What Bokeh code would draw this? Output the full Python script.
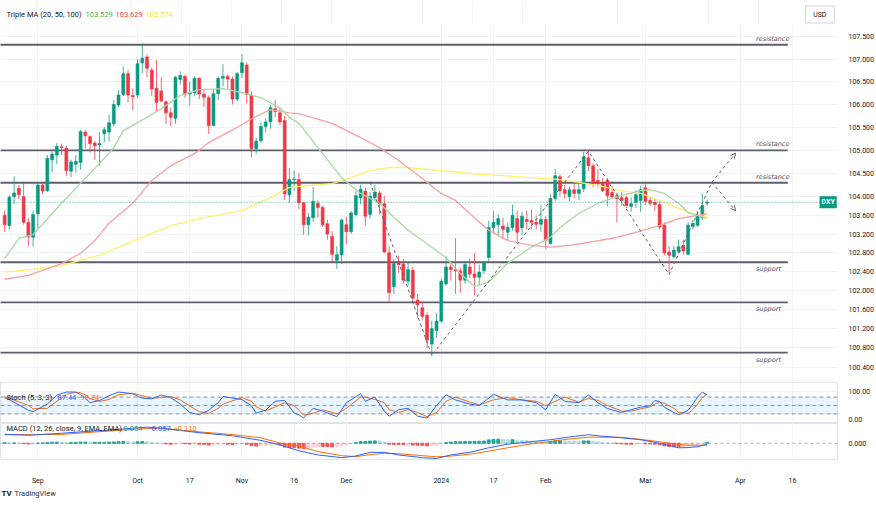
import numpy as np
from bokeh.plotting import figure
from bokeh.layouts import column
from bokeh.models import (Range1d, FixedTicker, PrintfTickFormatter, Label, Span,
                          BoxAnnotation, Arrow, OpenHead, ColumnDataSource)
from bokeh.embed import file_html
from bokeh.resources import INLINE
from bokeh.core.properties import value

# ---------------- data (daily DXY candles, bar index 0 = 23 Aug 2023) ----------------
opens = [103.60,103.38,104.00,104.18,104.00,103.45,103.13,103.63,104.25,104.13,104.80,104.90,105.08,105.05,104.55,104.70,104.74,105.40,105.30,105.16,
         105.12,105.36,105.40,105.58,105.99,106.22,106.68,106.20,106.21,106.92,107.05,106.76,106.36,106.30,106.06,105.82,105.70,106.55,106.62,106.23,
         106.26,106.58,106.23,106.15,105.54,106.24,106.58,106.62,106.56,106.12,106.70,106.87,106.21,105.04,105.21,105.52,105.62,105.91,105.82,105.65,
         104.04,104.37,104.37,103.87,103.40,103.55,103.86,103.77,103.42,103.15,102.64,102.76,103.40,103.25,103.62,103.98,104.12,103.62,103.98,104.08,
         103.85,102.80,102.08,102.62,102.56,102.20,102.43,101.80,101.64,101.48,100.88,101.16,101.36,102.14,102.50,102.44,102.42,102.22,102.50,102.35,
         102.28,102.42,102.70,103.34,103.40,103.37,103.24,103.34,103.53,103.34,103.51,103.49,103.45,103.41,103.51,103.00,103.96,104.43,104.15,104.00,
         104.15,104.07,104.17,104.84,104.67,104.35,104.30,104.35,104.09,104.02,103.98,103.98,103.79,103.88,103.92,104.19,103.92,103.88,103.83,103.39,
         102.82,102.72,102.83,102.96,102.77,103.36,103.39,103.55,103.86]
highs = [103.70,104.03,104.44,104.25,104.30,103.55,103.70,104.30,104.30,104.90,104.98,105.16,105.15,105.10,104.80,104.90,105.45,105.44,105.33,105.20,
         105.40,105.51,105.78,106.10,106.32,106.84,106.76,106.35,107.00,107.35,107.10,106.82,106.98,106.60,106.09,105.94,106.63,106.73,106.66,106.50,
         106.62,106.60,106.34,106.20,106.33,106.62,106.89,106.66,106.62,106.72,107.11,106.93,106.29,105.27,105.61,105.70,106.00,106.10,105.93,105.75,
         104.62,104.56,104.50,103.89,103.65,104.21,103.92,103.80,103.50,103.26,102.94,103.53,103.57,103.70,104.12,104.26,104.19,104.11,104.26,104.12,
         104.02,102.94,102.67,102.74,102.67,102.58,102.50,101.93,101.78,101.54,101.37,101.53,102.25,102.73,102.60,103.11,102.49,102.63,102.68,102.80,
         102.55,102.62,103.48,103.69,103.62,103.55,103.44,103.83,103.70,103.68,103.70,103.72,103.60,103.82,103.58,104.05,104.60,104.48,104.25,104.22,
         104.28,104.28,104.97,105.00,104.72,104.60,104.40,104.40,104.22,104.08,104.10,104.02,103.98,104.14,104.24,104.31,104.00,103.98,103.90,103.45,
         102.95,102.95,103.08,103.08,103.45,103.50,103.70,104.07,103.93]
lows = [103.25,103.30,103.84,103.95,103.40,102.94,102.93,103.32,104.05,104.10,104.53,104.70,104.90,104.45,104.42,104.52,104.58,105.04,104.95,104.80,
        104.67,105.18,105.19,105.52,105.95,106.19,106.05,105.88,106.14,106.69,106.60,106.19,105.85,106.05,105.57,105.53,105.58,106.44,106.15,105.98,
        106.18,106.12,105.95,105.36,105.53,106.10,106.40,106.32,106.00,106.07,106.58,106.03,104.85,104.93,105.17,105.39,105.47,105.73,105.56,103.93,
        103.87,104.13,103.73,103.18,103.17,103.46,103.55,103.35,103.08,102.58,102.46,102.56,102.99,103.20,103.58,103.84,103.38,103.53,103.92,103.62,
        102.79,101.77,101.93,102.37,102.14,102.11,101.75,101.43,101.37,100.80,100.62,101.01,101.32,102.10,102.21,101.93,101.95,102.15,102.27,101.90,
        102.12,102.35,102.62,103.20,103.16,103.10,103.06,103.28,103.00,103.18,103.30,103.30,103.30,103.25,102.88,102.98,103.90,104.00,103.96,103.90,
        103.96,103.92,104.10,104.55,104.20,104.20,104.10,103.80,103.95,103.45,103.81,103.75,103.68,103.75,103.67,103.82,103.80,103.70,103.30,102.75,
        102.36,102.68,102.78,102.76,102.75,103.30,103.35,103.50,103.80]
closes = [103.40,103.99,104.08,104.04,103.45,103.14,103.62,104.25,104.12,104.83,104.92,105.09,105.06,104.56,104.75,104.76,105.41,105.32,105.15,105.10,
          105.15,105.45,105.60,106.00,106.21,106.68,106.21,106.17,106.90,107.02,106.80,106.34,106.05,106.08,105.82,105.72,106.60,106.64,106.23,106.26,
          106.58,106.23,106.16,105.54,106.24,106.58,106.62,106.56,106.12,106.68,106.92,106.22,105.04,105.20,105.52,105.62,105.93,105.85,105.62,104.06,
          104.37,104.38,103.87,103.40,103.56,103.90,103.77,103.40,103.20,102.77,102.76,103.50,103.25,103.65,104.02,104.16,103.58,104.01,104.10,103.85,
          102.82,101.96,102.57,102.55,102.22,102.44,101.84,101.70,101.46,100.96,101.20,101.36,102.20,102.50,102.44,102.42,102.22,102.55,102.35,102.28,
          102.39,102.58,103.34,103.45,103.53,103.30,103.34,103.60,103.24,103.58,103.47,103.45,103.41,103.51,103.07,103.96,104.45,104.13,104.07,104.15,
          104.07,104.15,104.86,104.67,104.28,104.28,104.13,104.02,104.00,103.96,103.92,103.81,103.85,104.04,104.15,103.90,103.86,103.83,103.35,102.80,
          102.75,102.86,102.93,102.84,103.39,103.43,103.60,103.81,103.88]

# x-axis ticks (bar index of the labelled session) and their labels
tick_idx = [7, 28, 39, 50, 61, 72, 92, 103, 114, 135, 155, 166]
tick_labels = ["Sep", "Oct", "17", "Nov", "16", "Dec", "2024", "17", "Feb", "Mar", "Apr", "16"]
price_ticks = [100.4, 100.8, 101.2, 101.6, 102.0, 102.4, 102.8, 103.2, 103.6, 104.0,
               104.5, 105.0, 105.5, 106.0, 106.5, 107.0, 107.5]

# Triple MA (20, 50, 100)
ma20_idx = [0, 3, 6, 12, 20, 23, 25, 30, 33, 37, 41, 46, 50, 54, 58, 60, 62, 66, 71, 75, 79, 82, 85, 90, 93, 96,
            99, 102, 106, 111, 115, 117, 121, 125, 130, 134, 136, 139, 142, 144, 146, 148]
ma20_val = [102.68, 103.11, 103.19, 103.86, 104.72, 105.06, 105.43, 105.72, 105.91, 106.20, 106.33, 106.35, 106.26,
            106.15, 105.93, 105.72, 105.59, 105.06, 104.41, 104.07, 103.86, 103.56, 103.28, 102.92, 102.70, 102.36,
            102.09, 102.18, 102.58, 102.92, 103.13, 103.34, 103.64, 103.86, 104.03, 104.13, 104.15, 104.07, 103.86,
            103.66, 103.60, 103.53]
ma50_idx = [0, 5, 12, 16, 19, 22, 27, 31, 35, 40, 43, 49, 52, 56, 60, 62, 69, 75, 79, 83, 88, 92, 95, 98, 102, 106,
            111, 115, 119, 123, 128, 132, 138, 142, 146, 148]
ma50_val = [102.24, 102.32, 102.57, 102.79, 103.06, 103.43, 103.86, 104.35, 104.67, 104.93, 105.17, 105.50, 105.69,
            105.89, 105.82, 105.80, 105.59, 105.28, 105.06, 104.78, 104.39, 104.07, 103.92, 103.64, 103.28, 103.06,
            102.96, 102.92, 102.96, 103.02, 103.11, 103.21, 103.38, 103.53, 103.60, 103.63]
ma100_idx = [0, 8, 12, 20, 29, 35, 41, 50, 56, 60, 62, 69, 73, 77, 81, 85, 92, 100, 104, 111, 117, 121, 125, 130,
             134, 138, 142, 146, 148]
ma100_val = [102.39, 102.47, 102.53, 102.75, 103.13, 103.38, 103.53, 103.70, 103.98, 104.20, 104.22, 104.28, 104.41,
             104.56, 104.63, 104.63, 104.56, 104.48, 104.46, 104.41, 104.37, 104.31, 104.24, 104.13, 104.07, 103.92,
             103.75, 103.60, 103.57]
ma_last = ["103.529", "103.629", "103.574"]

# horizontal support / resistance drawings
res_levels = [107.32, 105.0, 104.3]
sup_levels = [102.6, 101.75, 100.7]
level_end = 165
level_label_x = 158.3

# dashed projection path
path_idx = [77, 90, 123, 140, 149]
path_val = [104.31, 100.64, 104.98, 102.34, 104.31]
arrow_up = (149, 104.31, 154, 104.94)
arrow_dn = (149, 104.31, 154, 103.70)

# Stochastic (5, 3, 3)
st_idx = [0, 1, 5, 6, 9, 11, 13, 15, 16, 17, 18, 20, 22, 24, 27, 29, 31, 33, 35, 37, 39, 41, 43, 45, 46, 50, 52,
          53, 55, 57, 59, 61, 62,
          63, 65, 67, 70, 72, 75, 76, 78, 80, 81, 83, 85, 87, 89, 91, 93, 95, 98, 100, 103, 106, 109, 112, 114,
          116, 118, 121, 123,
          125, 127, 130, 132, 134, 136, 137, 138, 139, 141, 142, 144, 145, 146, 147, 148]
st_k = [82, 71, 33, 28, 55, 87, 98, 98, 89, 76, 60, 68, 85, 98, 92, 76, 74, 87, 78, 55, 25, 17, 33, 60, 82, 71, 49,
        23, 33, 65, 68, 23, 17,
        5, 40, 30, 10, 60, 92, 65, 80, 30, 12, 35, 40, 12, 5, 50, 88, 70, 55, 50, 90, 70, 70, 60, 35,
        90, 65, 60, 88,
        60, 39, 25, 35, 44, 49, 68, 64, 44, 25, 17, 33, 55, 80, 98, 87.44]
st_d = [75, 76, 50, 38, 40, 65, 90, 97, 95, 88, 75, 64, 72, 88, 94, 85, 76, 78, 82, 70, 48, 28, 22, 40, 55, 78, 65,
        45, 30, 45, 60, 50, 33,
        15, 22, 35, 20, 40, 80, 80, 72, 60, 35, 25, 35, 25, 10, 25, 65, 80, 62, 52, 70, 78, 70, 65, 50,
        65, 80, 62, 75,
        68, 50, 30, 30, 38, 45, 55, 62, 58, 40, 25, 22, 35, 55, 78, 90.74]
st_last = ["87.44", "90.74"]

# MACD (12, 26, close, 9)
macd_idx = [0, 5, 12, 20, 27, 30, 33, 41, 48, 54, 58, 62, 66, 71, 74, 77, 80, 83, 88, 91, 94, 98, 102, 106, 111,
            115, 119, 123, 125, 130, 134, 138, 142, 144, 146, 148]
macd_line = [0.53, 0.47, 0.59, 0.74, 0.88, 0.95, 0.88, 0.62, 0.44, 0.17, -0.09, -0.44, -0.68, -0.84, -0.74, -0.53,
             -0.53, -0.68, -0.84, -0.89, -0.68, -0.53, -0.26, -0.05, 0.10, 0.21, 0.37, 0.50, 0.44, 0.32, 0.21, 0.00,
             -0.26, -0.25, -0.20, -0.057]
macd_signal = [0.50, 0.51, 0.52, 0.68, 0.81, 0.87, 0.88, 0.67, 0.51, 0.32, 0.01, -0.16, -0.49, -0.72, -0.78, -0.66,
               -0.58, -0.61, -0.72, -0.79, -0.75, -0.64, -0.46, -0.26, -0.03, 0.11, 0.25, 0.36, 0.36, 0.35, 0.23,
               0.09, -0.06, -0.11, -0.12, -0.110]
macd_hist = [0.03, 0.02, 0.02, 0.00, -0.02, -0.04, -0.03, 0.00, 0.02, 0.04, 0.06, 0.07, 0.06,
             0.04, 0.04, 0.05, 0.07, 0.07, 0.06, 0.06, 0.06,
             0.06, 0.07, 0.08, 0.09, 0.11, 0.09, 0.07, 0.09, 0.10, 0.08,
             0.05, 0.02, 0.00, -0.03, -0.06, -0.03, -0.01, -0.03, -0.04, -0.03,
             -0.05, -0.06, -0.10, -0.09, -0.06, -0.05, -0.05, -0.07, -0.04, -0.02,
             -0.05, -0.13, -0.16, -0.15, -0.13, -0.10, -0.09, -0.10, -0.22, -0.25,
             -0.26, -0.28, -0.30, -0.27, -0.22, -0.19, -0.19, -0.19, -0.21, -0.20,
             -0.12, -0.09, -0.03, 0.04, 0.10, 0.10, 0.13, 0.14, 0.13, 0.05,
             -0.05, -0.06, -0.07, -0.08, -0.07, -0.10, -0.11, -0.12, -0.15, -0.12,
             -0.10, -0.02, 0.04, 0.07, 0.09, 0.09, 0.11, 0.11, 0.11, 0.12,
             0.13, 0.20, 0.23, 0.24, 0.22, 0.21, 0.21, 0.18, 0.17, 0.15,
             0.13, 0.11, 0.09, 0.05, 0.10, 0.15, 0.15, 0.13, 0.12, 0.11,
             0.10, 0.14, 0.14, 0.11, 0.08, 0.05, 0.02, 0.00, -0.02, -0.03,
             -0.05, -0.05, -0.04, -0.02, -0.03, -0.04, -0.05, -0.09, -0.15, -0.19,
             -0.20, -0.20, -0.19, -0.14, -0.11, -0.08, -0.03, 0.054]
macd_last = ["0.054", "\u22120.057", "\u22120.110"]

# ---------------- layout / styling ----------------
FONT = "Roboto"
UP, DN = "#089981", "#f23645"
GRID = "#f0f2f6"
TXT = "#131722"
W = 876
RB = 38                      # price-scale column
BAR_PX = 4.752               # pixels per session
X0 = -0.87
xr = Range1d(X0, X0 + (W - RB) / BAR_PX)


def base_fig(height, yr, bottom=0, **kw):
    f = figure(width=W, height=height, x_range=xr, y_range=yr, y_axis_location="right",
               output_backend="svg", toolbar_location=None, min_border_left=0,
               min_border_right=RB, min_border_top=0, min_border_bottom=bottom, **kw)
    f.outline_line_color = "#e0e3eb"
    f.background_fill_color = "white"
    f.xgrid.ticker = FixedTicker(ticks=tick_idx)
    f.xgrid.grid_line_color = GRID
    f.ygrid.grid_line_color = GRID
    for ax in f.yaxis:
        ax.major_tick_line_color = None
        ax.minor_tick_line_color = None
        ax.axis_line_color = None
        ax.major_label_text_font_size = "7px"
        ax.major_label_text_font = FONT
        ax.major_label_text_color = TXT
        ax.major_label_standoff = 5
    return f


def label(f, x, y, text, color=TXT, size="7.5px", **kw):
    f.add_layout(Label(x=x, y=y, x_units="screen", y_units="screen", text=text, text_font=FONT,
                       text_font_size=size, text_color=color, text_baseline="middle", **kw))


# ---------------- header strip (legend + currency) ----------------
HDR_H = 24
hdr = figure(width=W, height=HDR_H, x_range=Range1d(0, W), y_range=Range1d(0, HDR_H),
             x_axis_location=None, y_axis_location=None, output_backend="svg", toolbar_location=None,
             min_border_left=0, min_border_right=0, min_border_top=0, min_border_bottom=0)
hdr.outline_line_color = None
hdr.xgrid.ticker = FixedTicker(ticks=[(t - X0) * BAR_PX for t in tick_idx])
hdr.xgrid.grid_line_color = GRID
hdr.ygrid.visible = False
for tx, xx, cc in [("Triple MA (20, 50, 100)", 6, TXT), (ma_last[0], 85, "#4caf50"),
                   (ma_last[1], 115, "#f23645"), (ma_last[2], 145, "#f5e03a")]:
    label(hdr, xx, 10.5, tx, cc)
hdr.rect(x=[857.5], y=[10], width=[30], height=[17], fill_color="white", line_color="#d1d4dc",
         line_width=1)
hdr.text(x=[857.5], y=[10], text=["USD"], text_font=value(FONT), text_font_size="7px",
         text_color=TXT, text_align="center", text_baseline="middle")

# ---------------- main price pane ----------------
p = base_fig(358, Range1d(100.08, 107.77), y_axis_type="log", x_axis_location=None)
p.outline_line_color = None
p.yaxis.ticker = FixedTicker(ticks=price_ticks)
p.yaxis.formatter = PrintfTickFormatter(format="%.3f")
p.ygrid.ticker = FixedTicker(ticks=price_ticks)

xs = list(range(len(closes)))
col = [UP if c >= o else DN for o, c in zip(opens, closes)]
src = ColumnDataSource(dict(x=xs, h=highs, l=lows,
                            top=[max(o, c) for o, c in zip(opens, closes)],
                            bot=[min(o, c) for o, c in zip(opens, closes)], color=col))

for lv in res_levels + sup_levels:
    p.segment(x0=[X0 - 2], x1=[level_end], y0=[lv], y1=[lv], line_color="#5d606b", line_width=1.8)
p.text(x=[level_label_x] * len(res_levels), y=res_levels, text=["resistance"] * len(res_levels),
       text_font=value("DejaVu Sans"), text_font_style="italic", text_font_size="6.5px",
       text_color="#50535e", text_baseline="bottom", y_offset=-2)
p.text(x=[level_label_x] * len(sup_levels), y=sup_levels, text=["support"] * len(sup_levels),
       text_font=value("DejaVu Sans"), text_font_style="italic", text_font_size="6.5px",
       text_color="#50535e", text_baseline="top", y_offset=3)

p.add_layout(Span(location=closes[-1], dimension="width", line_color=UP, line_dash="1 2",
                  line_width=1, line_alpha=0.8))

p.segment(x0="x", x1="x", y0="l", y1="h", line_color="color", line_width=1, line_alpha=0.75, source=src)
p.vbar(x="x", width=0.62, top="top", bottom="bot", fill_color="color", line_color="color",
       line_width=0.6, source=src)

p.line(ma100_idx, ma100_val, line_color="#fff06a", line_width=1.3)
p.line(ma50_idx, ma50_val, line_color="#f7a1a1", line_width=1.3)
p.line(ma20_idx, ma20_val, line_color="#a8d8a4", line_width=1.3)

p.line(path_idx, path_val, line_color="#5d606b", line_dash="3 3", line_width=1)
for a in (arrow_up, arrow_dn):
    p.add_layout(Arrow(end=OpenHead(size=5, line_color="#5d606b", line_width=1),
                       x_start=a[0], y_start=a[1], x_end=a[2], y_end=a[3],
                       line_color="#5d606b", line_dash="3 3", line_width=1))

p.add_layout(Label(x=819, y=closes[-1], x_units="screen", y_units="data", text="DXY",
                   text_font=FONT, text_font_size="7px", text_color="white", text_font_style="bold",
                   text_baseline="middle", background_fill_color=UP, padding=2))

# ---------------- stochastic pane ----------------
s = base_fig(41, Range1d(-14.3, 132.1), x_axis_location=None)
s.yaxis.ticker = FixedTicker(ticks=[0, 100])
s.yaxis.formatter = PrintfTickFormatter(format="%.2f")
s.ygrid.ticker = FixedTicker(ticks=[100])
s.add_layout(BoxAnnotation(bottom=20, top=80, fill_color="#2196f3", fill_alpha=0.1, line_color=None))
for lv in (20, 50, 80):
    s.add_layout(Span(location=lv, dimension="width", line_color="#787b86", line_dash="4 3",
                      line_width=1, line_alpha=0.8))
s.line(st_idx, st_d, line_color="#ff6d00", line_width=1)
s.line(st_idx, st_k, line_color="#2962ff", line_width=1)
for tx, xx, cc in [("Stoch (5, 3, 3)", 6, TXT), (st_last[0], 57, "#2962ff"), (st_last[1], 80, "#ff6d00")]:
    label(s, xx, 26, tx, cc)

# ---------------- MACD pane ----------------
m = base_fig(64, Range1d(-0.947, 1.158), bottom=24)
m.yaxis.ticker = FixedTicker(ticks=[0])
m.yaxis.formatter = PrintfTickFormatter(format="%.3f")
m.ygrid.ticker = FixedTicker(ticks=[])
m.xaxis.ticker = FixedTicker(ticks=tick_idx)
m.xaxis.major_label_overrides = {t: l for t, l in zip(tick_idx, tick_labels)}
m.xaxis.major_tick_line_color = None
m.xaxis.minor_tick_line_color = None
m.xaxis.axis_line_color = "#e0e3eb"
m.xaxis.major_label_text_font_size = "7px"
m.xaxis.major_label_text_font = FONT
m.xaxis.major_label_text_color = TXT
m.xaxis.major_label_standoff = 11

hcol = []
for k, h in enumerate(macd_hist):
    prev = macd_hist[k - 1] if k > 0 else h
    if h >= 0:
        hcol.append("#26a69a" if h >= prev else "#b2dfdb")
    else:
        hcol.append("#ff5252" if h <= prev else "#ffcdd2")
m.add_layout(Span(location=0, dimension="width", line_color="#787b86", line_dash="3 3",
                  line_width=1, line_alpha=0.6))
m.vbar(x=xs, top=macd_hist, bottom=0, width=0.62, fill_color=hcol, line_color=hcol)
m.line(macd_idx, macd_signal, line_color="#ff6d00", line_width=1)
m.line(macd_idx, macd_line, line_color="#2962ff", line_width=1)
for tx, xx, cc in [("MACD (12, 26, close, 9, EMA, EMA)", 6, TXT), (macd_last[0], 123, "#26a69a"),
                   (macd_last[1], 147, "#2962ff"), (macd_last[2], 173, "#ff6d00")]:
    label(m, xx, 31, tx, cc)

# ---------------- footer (brand) ----------------
ftr = figure(width=W, height=20, x_range=Range1d(0, W), y_range=Range1d(0, 20),
             x_axis_location=None, y_axis_location=None, output_backend="svg", toolbar_location=None,
             min_border_left=0, min_border_right=0, min_border_top=0, min_border_bottom=0)
ftr.outline_line_color = None
ftr.xgrid.visible = False
ftr.ygrid.visible = False
label(ftr, 1, 14, "TV", TXT, "8px", text_font_style="bold")
label(ftr, 14, 14, "TradingView", "#2a2e39", "7.5px")

layout = column(hdr, p, s, m, ftr, spacing=0)
open("out.html", "w").write(file_html(layout, INLINE))
